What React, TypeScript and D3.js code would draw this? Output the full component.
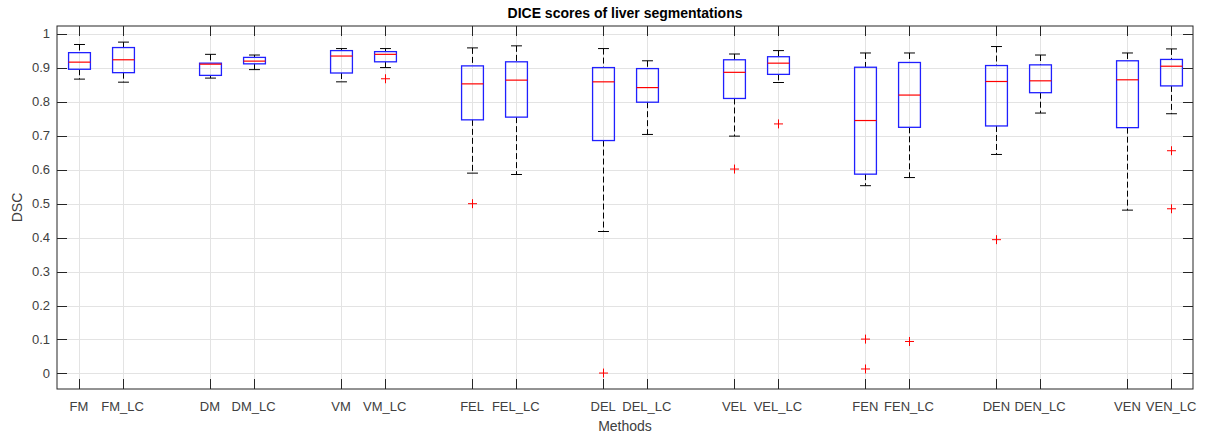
import * as d3 from 'd3';

// method names along the x axis
const methods = [
  'FM', 'FM_LC', 'DM', 'DM_LC', 'VM', 'VM_LC',
  'FEL', 'FEL_LC', 'DEL', 'DEL_LC', 'VEL', 'VEL_LC',
  'FEN', 'FEN_LC', 'DEN', 'DEN_LC', 'VEN', 'VEN_LC',
];

// box statistics
const upperWhisker = [0.969, 0.976, 0.94, 0.938, 0.957, 0.957, 0.959, 0.965, 0.957, 0.921, 0.941, 0.951, 0.944, 0.944, 0.963, 0.938, 0.944, 0.956];
const q3 = [0.945, 0.96, 0.914, 0.931, 0.951, 0.948, 0.906, 0.918, 0.901, 0.898, 0.924, 0.933, 0.902, 0.916, 0.907, 0.909, 0.921, 0.925];
const medians = [0.917, 0.924, 0.911, 0.92, 0.935, 0.94, 0.853, 0.864, 0.859, 0.842, 0.887, 0.914, 0.745, 0.82, 0.86, 0.862, 0.865, 0.905];
const q1 = [0.896, 0.886, 0.878, 0.912, 0.885, 0.918, 0.747, 0.755, 0.686, 0.799, 0.81, 0.881, 0.587, 0.725, 0.729, 0.827, 0.724, 0.847];
const lowerWhisker = [0.867, 0.858, 0.87, 0.895, 0.859, 0.901, 0.59, 0.586, 0.418, 0.704, 0.699, 0.857, 0.553, 0.577, 0.645, 0.767, 0.481, 0.765];
const outliers = [
  [], [], [], [], [], [0.868],
  [0.5], [], [0.001], [], [0.602], [0.735],
  [0.101, 0.013], [0.094], [0.394], [], [], [0.656, 0.485],
];

const yTicks = [0, 0.1, 0.2, 0.3, 0.4, 0.5, 0.6, 0.7, 0.8, 0.9, 1];

const W = 1206;
const H = 436;
const margin = { left: 57, right: 13, top: 26, bottom: 47 };
const font = '"Liberation Sans", Arial, Helvetica, sans-serif';
const axisColor = '#262626';
const textColor = '#404040';

// pairs of methods, each group 3 units apart
const posOf = (i: number) => Math.floor(i / 2) * 3 + (i % 2) + 1;

export default function App() {
  const x = d3.scaleLinear().domain([0.5, 26.5]).range([margin.left, W - margin.right]);
  const y = d3.scaleLinear().domain([-0.046, 1.0235]).range([H - margin.bottom, margin.top]);
  const boxHalf = (x(1.25) - x(1)) ;
  const capHalf = (x(1.125) - x(1));
  const tickLen = 10;
  const [x0, x1] = x.range();
  const [yb, yt] = y.range();

  return (
    <div style={{ position: 'absolute', left: 0, top: 0 }}>
      <svg width={W} height={H} style={{ display: 'block', background: '#fff' }}>
        <rect x={x0} y={yt} width={x1 - x0} height={yb - yt} fill="#fff" />
        {/* grid */}
        <g stroke="#e3e3e3" strokeWidth={1}>
          {yTicks.map(t => (
            <line key={'gy' + t} x1={x0} x2={x1} y1={Math.round(y(t)) + 0.5} y2={Math.round(y(t)) + 0.5} />
          ))}
          {methods.map((m, i) => (
            <line key={'gx' + m} x1={Math.round(x(posOf(i))) + 0.5} x2={Math.round(x(posOf(i))) + 0.5} y1={yt} y2={yb} />
          ))}
        </g>

        {/* boxes */}
        {methods.map((m, i) => {
          const cx = Math.round(x(posOf(i))) + 0.5;
          return (
            <g key={m}>
              <line x1={cx} x2={cx} y1={y(upperWhisker[i])} y2={y(q3[i])} stroke="#000" strokeDasharray="6,3" strokeWidth={1} />
              <line x1={cx} x2={cx} y1={y(q1[i])} y2={y(lowerWhisker[i])} stroke="#000" strokeDasharray="6,3" strokeWidth={1} />
              <line x1={cx - capHalf} x2={cx + capHalf} y1={y(upperWhisker[i])} y2={y(upperWhisker[i])} stroke="#000" strokeWidth={1} />
              <line x1={cx - capHalf} x2={cx + capHalf} y1={y(lowerWhisker[i])} y2={y(lowerWhisker[i])} stroke="#000" strokeWidth={1} />
              <rect
                x={cx - boxHalf}
                y={y(q3[i])}
                width={boxHalf * 2}
                height={y(q1[i]) - y(q3[i])}
                fill="none"
                stroke="#2020ff"
                strokeWidth={1.3}
              />
              <line x1={cx - boxHalf} x2={cx + boxHalf} y1={y(medians[i])} y2={y(medians[i])} stroke="#ff0000" strokeWidth={1.2} />
              {outliers[i].map((o, k) => (
                <g key={k} stroke="#ff0000" strokeWidth={1}>
                  <line x1={cx - 4.5} x2={cx + 4.5} y1={y(o)} y2={y(o)} />
                  <line x1={cx} x2={cx} y1={y(o) - 4.5} y2={y(o) + 4.5} />
                </g>
              ))}
            </g>
          );
        })}

        {/* axes box and ticks */}
        <rect x={x0} y={yt} width={x1 - x0} height={yb - yt} fill="none" stroke={axisColor} strokeWidth={1} />
        <g stroke={axisColor} strokeWidth={1}>
          {yTicks.map(t => {
            const yy = Math.round(y(t)) + 0.5;
            return (
              <g key={'ty' + t}>
                <line x1={x0} x2={x0 + tickLen} y1={yy} y2={yy} />
                <line x1={x1} x2={x1 - tickLen} y1={yy} y2={yy} />
              </g>
            );
          })}
          {methods.map((m, i) => {
            const xx = Math.round(x(posOf(i))) + 0.5;
            return (
              <g key={'tx' + m}>
                <line x1={xx} x2={xx} y1={yb} y2={yb - tickLen} />
                <line x1={xx} x2={xx} y1={yt} y2={yt + tickLen} />
              </g>
            );
          })}
        </g>

        {/* tick labels */}
        <g fontFamily={font} fontSize={13} fill={textColor}>
          {yTicks.map(t => (
            <text key={'ly' + t} x={x0 - 7} y={y(t)} textAnchor="end" dominantBaseline="central">
              {d3.format('~g')(t)}
            </text>
          ))}
          {methods.map((m, i) => (
            <text key={'lx' + m} x={x(posOf(i))} y={yb + 17} textAnchor="middle" dominantBaseline="central">
              {m}
            </text>
          ))}
        </g>

        <text x={(x0 + x1) / 2} y={426} textAnchor="middle" dominantBaseline="central" fontFamily={font} fontSize={14} fill={textColor}>
          Methods
        </text>
        <text
          transform={`translate(17,${(yt + yb) / 2}) rotate(-90)`}
          textAnchor="middle"
          dominantBaseline="central"
          fontFamily={font}
          fontSize={14}
          fill={textColor}
        >
          DSC
        </text>
        <text x={(x0 + x1) / 2} y={13} textAnchor="middle" dominantBaseline="central" fontFamily={font} fontSize={14} fontWeight="bold" fill="#000">
          DICE scores of liver segmentations
        </text>
      </svg>
    </div>
  );
}
